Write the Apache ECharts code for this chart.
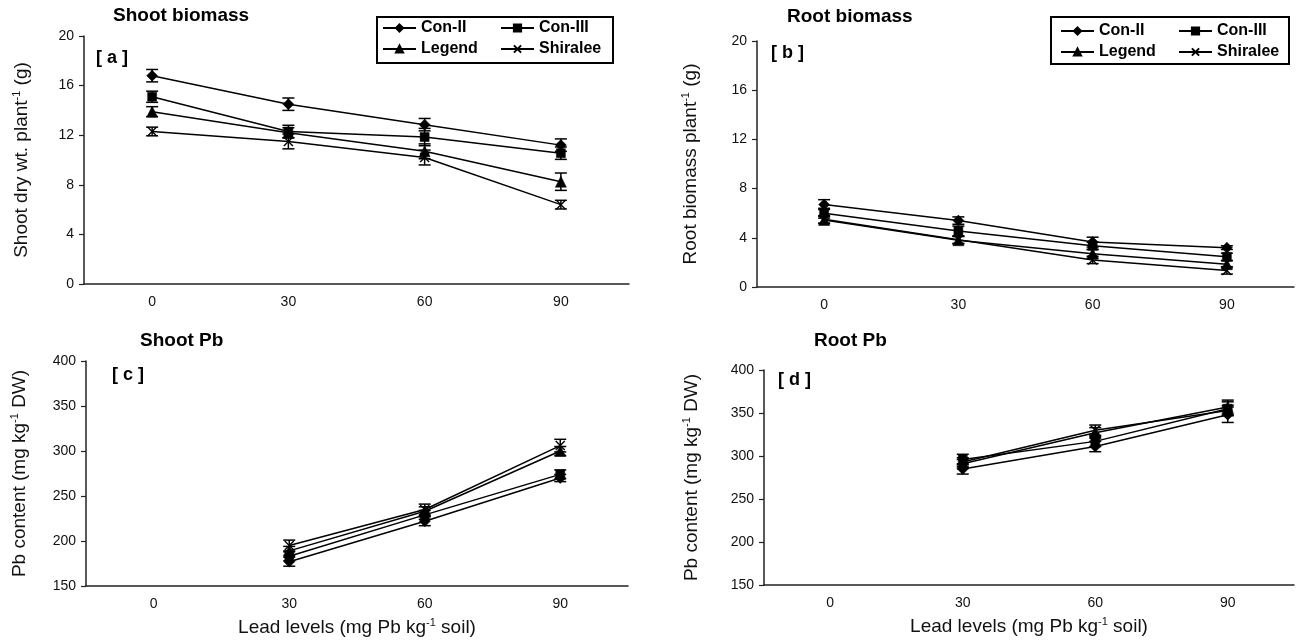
<!DOCTYPE html>
<html><head><meta charset="utf-8">
<script src="https://cdn.jsdelivr.net/npm/echarts@6/dist/echarts.min.js"></script>
<style>html,body{margin:0;padding:0;background:#fff}#c{width:1297px;height:643px}</style>
</head><body><div id="c"></div>
<script>
const categories = ['0', '30', '60', '90'];
const seriesNames = ['Con-II', 'Con-III', 'Legend', 'Shiralee'];
const yTicksBiomass = [0, 20, 4];
const yTicksPb = [150, 400, 50];

// values ordered as seriesNames
const shootBiomass = [
  [16.8, 14.5, 12.85, 11.2],
  [15.1, 12.3, 11.85, 10.55],
  [13.9, 12.2, 10.7, 8.25],
  [12.3, 11.5, 10.2, 6.4]
];
const shootBiomassErr = [
  [0.5, 0.5, 0.5, 0.5],
  [0.45, 0.5, 0.7, 0.5],
  [0.4, 0.4, 0.6, 0.7],
  [0.35, 0.6, 0.6, 0.35]
];
const rootBiomass = [
  [6.7, 5.4, 3.65, 3.2],
  [6.0, 4.55, 3.35, 2.45],
  [5.45, 3.8, 2.7, 1.85],
  [5.5, 3.85, 2.2, 1.35]
];
const rootBiomassErr = [
  [0.4, 0.3, 0.4, 0.15],
  [0.4, 0.4, 0.3, 0.3],
  [0.3, 0.3, 0.35, 0.3],
  [0.3, 0.3, 0.3, 0.3]
];
const shootPb = [
  [null, 177, 222, 270],
  [null, 183, 229, 274],
  [null, 189, 233, 300],
  [null, 195, 235, 306]
];
const shootPbErr = [
  [null, 5, 5, 4],
  [null, 5, 5, 5],
  [null, 5, 5, 5],
  [null, 6, 6, 7]
];
const rootPb = [
  [null, 285, 311, 348],
  [null, 296, 317, 355],
  [null, 291, 327, 357],
  [null, 293, 330, 353]
];
const rootPbErr = [
  [null, 6, 6, 9],
  [null, 6, 6, 8],
  [null, 5, 6, 8],
  [null, 5, 6, 6]
];

const FONT = '"Liberation Sans", Arial, sans-serif';
const symbols = ['diamond', 'rect', 'triangle', 'path://M0,0L10,10M10,0L0,10'];
const symbolSizes = [11, 9, 11, 9];

const panels = [
  {vals: shootBiomass, errs: shootBiomassErr, ticks: yTicksBiomass,
   yName: '{t|Shoot dry wt. plant}{s|-1}{t| (g)}', yGap: 51, xName: ''},
  {vals: rootBiomass, errs: rootBiomassErr, ticks: yTicksBiomass,
   yName: '{t|Root biomass plant}{s|-1}{t| (g)}', yGap: 55, xName: ''},
  {vals: shootPb, errs: shootPbErr, ticks: yTicksPb,
   yName: '{t|Pb content (mg kg}{s|-1}{t| DW)}', yGap: 55, xName: '{t|Lead levels (mg Pb kg}{s|-1}{t| soil)}'},
  {vals: rootPb, errs: rootPbErr, ticks: yTicksPb,
   yName: '{t|Pb content (mg kg}{s|-1}{t| DW)}', yGap: 61, xName: '{t|Lead levels (mg Pb kg}{s|-1}{t| soil)}'}
];

const richName = {
  t: {fontSize: 19, fontFamily: FONT, color: '#111', lineHeight: 22},
  s: {fontSize: 11, fontFamily: FONT, color: '#111', verticalAlign: 'top', lineHeight: 13}
};

const grids = [
  {left: 84, top: 36, width: 545, height: 248},
  {left: 757, top: 41, width: 537, height: 246},
  {left: 86, top: 361, width: 542, height: 225},
  {left: 764, top: 370, width: 530, height: 215}
];

const axisLine = {lineStyle: {color: '#222', width: 1.5}};
const xAxes = panels.map((p, i) => ({
  type: 'category', gridIndex: i, data: categories, boundaryGap: true,
  axisLine: axisLine,
  axisTick: {length: 8, lineStyle: {color: '#222', width: 1.2}, interval: 0},
  axisLabel: {fontSize: 14, fontFamily: FONT, color: '#111', margin: 11},
  name: p.xName, nameLocation: 'middle', nameGap: 31,
  nameTextStyle: {rich: richName}
}));
const yAxes = panels.map((p, i) => ({
  type: 'value', gridIndex: i, min: p.ticks[0], max: p.ticks[1], interval: p.ticks[2],
  axisLine: {show: true, lineStyle: {color: '#222', width: 1.5}},
  axisTick: {show: true, length: 5, lineStyle: {color: '#222', width: 1.2}},
  axisLabel: {fontSize: 14, fontFamily: FONT, color: '#111', margin: 10},
  splitLine: {show: false},
  name: p.yName, nameLocation: 'middle', nameRotate: 90, nameGap: p.yGap,
  nameTextStyle: {rich: richName}
}));

function renderErr(params, api) {
  const x = api.value(0), lo = api.value(1), hi = api.value(2);
  const p1 = api.coord([x, lo]), p2 = api.coord([x, hi]);
  const hw = 6;
  const st = {stroke: '#000', lineWidth: 1.5};
  return {type: 'group', children: [
    {type: 'line', shape: {x1: p1[0], y1: p1[1], x2: p2[0], y2: p2[1]}, style: st},
    {type: 'line', shape: {x1: p1[0] - hw, y1: p1[1], x2: p1[0] + hw, y2: p1[1]}, style: st},
    {type: 'line', shape: {x1: p2[0] - hw, y1: p2[1], x2: p2[0] + hw, y2: p2[1]}, style: st}
  ]};
}

const series = [];
panels.forEach((p, pi) => {
  seriesNames.forEach((name, si) => {
    const errData = [];
    p.vals[si].forEach((v, ci) => {
      if (v != null) errData.push([ci, v - p.errs[si][ci], v + p.errs[si][ci]]);
    });
    series.push({
      type: 'custom', name: 'err-' + pi + '-' + si, xAxisIndex: pi, yAxisIndex: pi,
      renderItem: renderErr, encode: {x: 0, y: [1, 2]}, data: errData, z: 2, silent: true
    });
    series.push({
      type: 'line', name: name, xAxisIndex: pi, yAxisIndex: pi,
      data: p.vals[si], symbol: symbols[si], symbolSize: symbolSizes[si],
      showAllSymbol: true, connectNulls: false,
      lineStyle: {color: '#000', width: 1.5},
      itemStyle: {color: '#000', borderColor: '#000', borderWidth: si === 3 ? 1.4 : 0.5},
      z: 3, animation: false
    });
  });
});

const legendBase = {
  orient: 'vertical', itemWidth: 33, itemHeight: 9, itemGap: 5, padding: 0,
  selectedMode: false,
  textStyle: {fontSize: 16, fontWeight: 'bold', fontFamily: FONT, color: '#000'}
};
const legends = [
  Object.assign({}, legendBase, {data: ['Con-II', 'Legend'], left: 382, top: 20}),
  Object.assign({}, legendBase, {data: ['Con-III', 'Shiralee'], left: 500, top: 20}),
  Object.assign({}, legendBase, {data: ['Con-II', 'Legend'], left: 1060, top: 23}),
  Object.assign({}, legendBase, {data: ['Con-III', 'Shiralee'], left: 1178, top: 23})
];

const tStyle = {fontSize: 19, fontWeight: 'bold', fontFamily: FONT, color: '#000'};
const pStyle = {fontSize: 18, fontWeight: 'bold', fontFamily: FONT, color: '#000'};
const titles = [
  {text: 'Shoot biomass', left: 113, top: 6, textStyle: tStyle},
  {text: 'Root biomass', left: 787, top: 7, textStyle: tStyle},
  {text: 'Shoot Pb', left: 140, top: 331, textStyle: tStyle},
  {text: 'Root Pb', left: 814, top: 331, textStyle: tStyle},
  {text: '[ a ]', left: 96, top: 49, textStyle: pStyle},
  {text: '[ b ]', left: 771, top: 44, textStyle: pStyle},
  {text: '[ c ]', left: 112, top: 366, textStyle: pStyle},
  {text: '[ d ]', left: 778, top: 371, textStyle: pStyle}
].map(t => Object.assign({padding: 0}, t));

const chart = echarts.init(document.getElementById('c'));
chart.setOption({
  backgroundColor: '#fff',
  animation: false,
  title: titles,
  legend: legends,
  grid: grids,
  xAxis: xAxes,
  yAxis: yAxes,
  series: series,
  graphic: [
    {type: 'rect', shape: {x: 377, y: 17, width: 236, height: 46}, style: {fill: 'none', stroke: '#000', lineWidth: 2}, z: 10},
    {type: 'rect', shape: {x: 1051, y: 17, width: 238, height: 47}, style: {fill: 'none', stroke: '#000', lineWidth: 2}, z: 10}
  ]
});
</script></body></html>
